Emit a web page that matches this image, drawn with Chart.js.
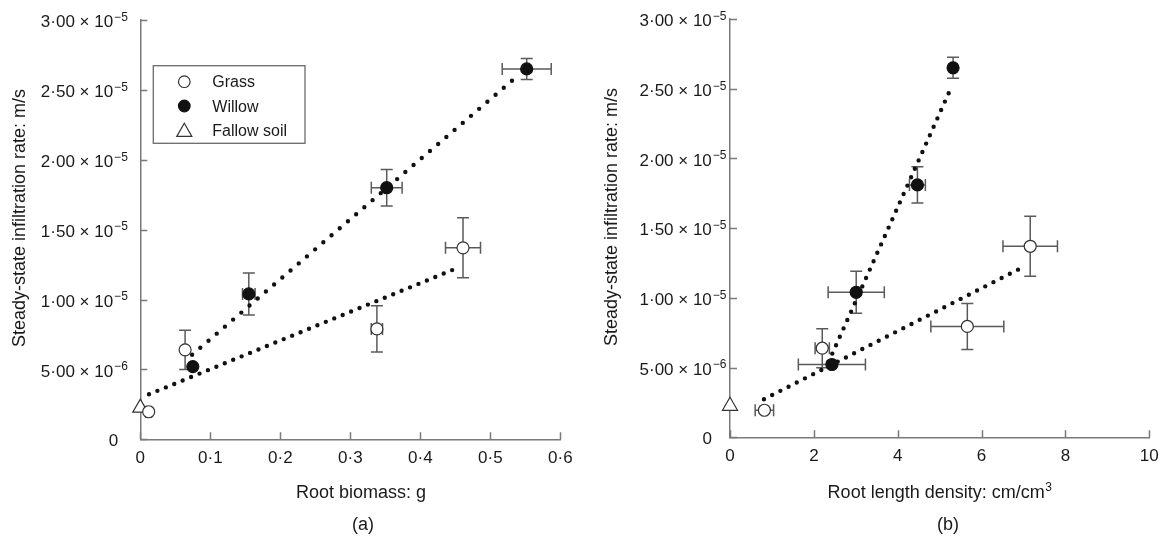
<!DOCTYPE html>
<html>
<head>
<meta charset="utf-8">
<script src="https://cdn.jsdelivr.net/npm/chart.js@4.4.1/dist/chart.umd.min.js"></script>
<style>
  html, body { margin: 0; padding: 0; background: #fff; }
  #wrap { position: relative; width: 1163px; height: 538px; }
  .panel { position: absolute; top: 0; height: 538px; }
  #panelA { left: 0; width: 580px; }
  #panelB { left: 580px; width: 583px; }
</style>
</head>
<body>
<div id="wrap">
  <div class="panel" id="panelA"><canvas id="chartA" width="580" height="538"></canvas></div>
  <div class="panel" id="panelB"><canvas id="chartB" width="583" height="538"></canvas></div>
</div>
<script>
// ---- (a) infiltration vs root biomass (g) ----
const biomassGrassX = [0.012, 0.064, 0.338, 0.461];
const biomassGrassY = [1.97e-6, 6.4e-6, 7.9e-6, 1.37e-5];
const biomassGrassXErr = [0.004, 0.002, 0.008, 0.025];
const biomassGrassYErr = [0, 1.4e-6, 1.65e-6, 2.15e-6];

const biomassWillowX = [0.075, 0.155, 0.352, 0.552];
const biomassWillowY = [5.2e-6, 1.04e-5, 1.80e-5, 2.65e-5];
const biomassWillowXErr = [0, 0.009, 0.022, 0.035];
const biomassWillowYErr = [0, 1.5e-6, 1.3e-6, 0.75e-6];

const biomassWillowFitX = [0.074, 0.539];
const biomassWillowFitY = [6.05e-6, 2.60e-5];
const biomassGrassFitX = [0.0124, 0.453];
const biomassGrassFitY = [3.22e-6, 1.226e-5];

// ---- (b) infiltration vs root length density (cm/cm3) ----
const densityGrassX = [0.82, 2.2, 5.66, 7.16];
const densityGrassY = [1.94e-6, 6.39e-6, 7.95e-6, 1.37e-5];
const densityGrassXErr = [0.22, 0.17, 0.87, 0.65];
const densityGrassYErr = [0, 1.4e-6, 1.65e-6, 2.15e-6];

const densityWillowX = [2.43, 3.01, 4.47, 5.32];
const densityWillowY = [5.22e-6, 1.04e-5, 1.81e-5, 2.65e-5];
const densityWillowXErr = [0.8, 0.67, 0.19, 0.05];
const densityWillowYErr = [0, 1.5e-6, 1.3e-6, 0.75e-6];

const densityWillowFitX = [2.35, 5.27];
const densityWillowFitY = [5.4e-6, 2.505e-5];
const densityGrassFitX = [0.81, 6.97];
const densityGrassFitY = [2.73e-6, 1.218e-5];

// fallow soil has no roots
const fallowX = [0];
const fallowY = [2.25e-6];

const legendLabels = ['Grass', 'Willow', 'Fallow soil'];

const FONT = "'Liberation Sans', Arial, Helvetica, sans-serif";
const AXIS_COLOR = '#7a7a7a';
const ERR_COLOR = '#5a5a5a';
const TEXT_COLOR = '#1a1a1a';
const MARK_DARK = '#111';

function toPoints(xs, ys) {
    return xs.map((x, i) => ({ x: x, y: ys[i] }));
}

function sciParts(v) {
    const parts = v.toExponential(2).split('e');
    return { mant: parts[0].replace('.', '·'), exp: '−' + Math.abs(parseInt(parts[1], 10)) };
}

function drawMarker(ctx, style, x, y) {
    ctx.beginPath();
    if (style === 'triangle') {
        const r = 8.7;
        for (let k = 0; k < 3; k++) {
            const a = k * 2 * Math.PI / 3;
            const px = x + Math.sin(a) * r, py = y - Math.cos(a) * r;
            k === 0 ? ctx.moveTo(px, py) : ctx.lineTo(px, py);
        }
        ctx.closePath();
        ctx.fillStyle = '#fff';
        ctx.strokeStyle = '#333';
    } else {
        ctx.arc(x, y, 5.8, 0, Math.PI * 2);
        ctx.fillStyle = style === 'filled' ? MARK_DARK : '#fff';
        ctx.strokeStyle = style === 'filled' ? MARK_DARK : '#333';
    }
    ctx.lineWidth = 1.2;
    ctx.fill();
    ctx.stroke();
}

// ========== error bars (drawn under the markers) ==========
const errorBars = {
    id: 'errorBars',
    beforeDatasetsDraw(chart) {
        const { ctx, scales: { x, y } } = chart;
        const cap = 6;
        ctx.save();
        ctx.strokeStyle = ERR_COLOR;
        ctx.lineWidth = 1.5;
        chart.data.datasets.forEach(ds => {
            if (!ds.xErr && !ds.yErr) return;
            ds.data.forEach((p, i) => {
                const px = x.getPixelForValue(p.x);
                const py = y.getPixelForValue(p.y);
                const ey = ds.yErr ? ds.yErr[i] : 0;
                const ex = ds.xErr ? ds.xErr[i] : 0;
                ctx.beginPath();
                if (ey > 0) {
                    const top = y.getPixelForValue(p.y + ey);
                    const bot = y.getPixelForValue(p.y - ey);
                    ctx.moveTo(px, top); ctx.lineTo(px, bot);
                    ctx.moveTo(px - cap, top); ctx.lineTo(px + cap, top);
                    ctx.moveTo(px - cap, bot); ctx.lineTo(px + cap, bot);
                }
                if (ex > 0) {
                    const lft = x.getPixelForValue(p.x - ex);
                    const rgt = x.getPixelForValue(p.x + ex);
                    ctx.moveTo(lft, py); ctx.lineTo(rgt, py);
                    ctx.moveTo(lft, py - cap); ctx.lineTo(lft, py + cap);
                    ctx.moveTo(rgt, py - cap); ctx.lineTo(rgt, py + cap);
                }
                ctx.stroke();
            });
        });
        ctx.restore();
    }
};

// ========== inward ticks, scientific labels, titles, legend ==========
const axisDecor = {
    id: 'axisDecor',
    afterDraw(chart, args, opts) {
        const { ctx, chartArea: area, scales: { x, y } } = chart;
        ctx.save();

        ctx.strokeStyle = AXIS_COLOR;
        ctx.lineWidth = 1.5;
        ctx.beginPath();
        y.ticks.forEach(t => {
            const py = Math.round(y.getPixelForValue(t.value)) + 0.5;
            ctx.moveTo(area.left, py); ctx.lineTo(area.left + 7, py);
        });
        x.ticks.forEach(t => {
            const px = Math.round(x.getPixelForValue(t.value)) + 0.5;
            ctx.moveTo(px, area.bottom); ctx.lineTo(px, area.bottom - 7);
        });
        ctx.stroke();

        ctx.fillStyle = TEXT_COLOR;
        ctx.textBaseline = 'alphabetic';

        // y tick labels: m·mm × 10^-n
        y.ticks.forEach(t => {
            const py = y.getPixelForValue(t.value);
            if (Math.abs(t.value) < 1e-12) {
                ctx.font = `17px ${FONT}`;
                ctx.textAlign = 'right';
                ctx.fillText('0', area.left - opts.zeroGap, py + 6.3);
                return;
            }
            const s = sciParts(t.value);
            const main = s.mant + ' × 10';
            ctx.font = `12px ${FONT}`;
            const supW = ctx.measureText(s.exp).width;
            const end = area.left - opts.labelGap;
            ctx.textAlign = 'left';
            ctx.fillText(s.exp, end - supW, py + 0.8);
            ctx.font = `17px ${FONT}`;
            ctx.textAlign = 'right';
            ctx.fillText(main, end - supW - 1, py + 7.3);
        });

        // x tick labels, zero written plain
        ctx.font = `17px ${FONT}`;
        ctx.textAlign = 'center';
        x.ticks.forEach(t => {
            const px = x.getPixelForValue(t.value);
            const txt = t.value === 0 ? '0' : t.value.toFixed(opts.xDecimals).replace('.', '·');
            ctx.fillText(txt, px, area.bottom + 24);
        });

        // x title, with optional superscript
        ctx.font = `18px ${FONT}`;
        const baseW = ctx.measureText(opts.xTitle).width;
        let supW = 0;
        if (opts.xTitleSup) {
            ctx.font = `12px ${FONT}`;
            supW = ctx.measureText(opts.xTitleSup).width;
        }
        const startX = opts.xTitleX - (baseW + supW) / 2;
        ctx.textAlign = 'left';
        ctx.font = `18px ${FONT}`;
        ctx.fillText(opts.xTitle, startX, 498);
        if (opts.xTitleSup) {
            ctx.font = `12px ${FONT}`;
            ctx.fillText(opts.xTitleSup, startX + baseW + 0.5, 491);
        }

        // panel tag
        ctx.font = `18px ${FONT}`;
        ctx.textAlign = 'center';
        ctx.fillText(opts.tag, opts.tagX, 530);

        // y title
        ctx.save();
        ctx.translate(opts.yTitleX, opts.yTitleY);
        ctx.rotate(-Math.PI / 2);
        ctx.textAlign = 'center';
        ctx.fillText('Steady-state infiltration rate: m/s', 0, 0);
        ctx.restore();

        // legend box
        if (opts.legend) {
            const bx = area.left + 13, by = area.top + 45.7, bw = 151.7, bh = 77.6;
            ctx.strokeStyle = '#6a6a6a';
            ctx.lineWidth = 1.3;
            ctx.strokeRect(bx, by, bw, bh);
            const styles = ['open', 'filled', 'triangle'];
            const rows = [16, 40.3, 64.3];
            ctx.font = `16px ${FONT}`;
            ctx.textAlign = 'left';
            legendLabels.forEach((label, i) => {
                drawMarker(ctx, styles[i], bx + 31, by + rows[i] + (styles[i] === 'triangle' ? 2 : 0));
                ctx.fillStyle = TEXT_COLOR;
                ctx.fillText(label, bx + 59, by + rows[i] + 5.7);
            });
        }
        ctx.restore();
    }
};

// dotted regression line between two fitted end points
function fitLine(xs, ys, gap) {
    return {
        data: toPoints(xs, ys),
        showLine: true,
        borderColor: MARK_DARK,
        borderWidth: 4.4,
        borderDash: [0, gap],
        borderCapStyle: 'round',
        pointRadius: 0,
        fill: false,
        order: 2
    };
}

function pointSet(xs, ys, xErr, yErr, filled) {
    return {
        data: toPoints(xs, ys),
        xErr: xErr,
        yErr: yErr,
        pointStyle: 'circle',
        pointRadius: 6,
        pointBackgroundColor: filled ? MARK_DARK : '#fff',
        pointBorderColor: filled ? MARK_DARK : '#333',
        pointBorderWidth: 1.2,
        clip: false,
        order: 1
    };
}

function fallowSet() {
    return {
        data: toPoints(fallowX, fallowY),
        pointStyle: 'triangle',
        pointRadius: 8.7,
        pointBackgroundColor: '#fff',
        pointBorderColor: '#333',
        pointBorderWidth: 1.2,
        clip: false,
        order: 1
    };
}

function axisOpts(max, step, fitSize, isY) {
    return {
        type: 'linear',
        min: 0,
        max: max,
        ticks: { display: false, stepSize: step },
        grid: { display: false },
        border: { display: true, color: AXIS_COLOR, width: 1.5 },
        afterFit: isY ? (s => { s.width = fitSize; }) : (s => { s.height = fitSize; })
    };
}

function makeChart(canvasId, datasets, xMax, xStep, layout, decor) {
    return new Chart(document.getElementById(canvasId), {
        type: 'scatter',
        data: { datasets: datasets },
        options: {
            responsive: false,
            animation: false,
            events: [],
            layout: { padding: { left: 0, top: layout.top, right: layout.right, bottom: 0 } },
            scales: {
                x: axisOpts(xMax, xStep, layout.xHeight, false),
                y: axisOpts(3e-5, 5e-6, layout.yWidth, true)
            },
            plugins: {
                legend: { display: false },
                tooltip: { enabled: false },
                axisDecor: decor
            }
        },
        plugins: [errorBars, axisDecor]
    });
}

makeChart('chartA', [
    pointSet(biomassGrassX, biomassGrassY, biomassGrassXErr, biomassGrassYErr, false),
    pointSet(biomassWillowX, biomassWillowY, biomassWillowXErr, biomassWillowYErr, true),
    fallowSet(),
    fitLine(biomassWillowFitX, biomassWillowFitY, 10.8),
    fitLine(biomassGrassFitX, biomassGrassFitY, 9.1)
], 0.6, 0.1,
{ top: 20, right: 19.7, xHeight: 98.7, yWidth: 140.3 },
{ xDecimals: 1, labelGap: 12.5, zeroGap: 22, xTitle: 'Root biomass: g', xTitleSup: '',
  xTitleX: 361, tag: '(a)', tagX: 363, yTitleX: 24.5, yTitleY: 218, legend: true });

makeChart('chartB', [
    pointSet(densityGrassX, densityGrassY, densityGrassXErr, densityGrassYErr, false),
    pointSet(densityWillowX, densityWillowY, densityWillowXErr, densityWillowYErr, true),
    fallowSet(),
    fitLine(densityWillowFitX, densityWillowFitY, 9.2),
    fitLine(densityGrassFitX, densityGrassFitY, 9.2)
], 10, 2,
{ top: 19, right: 13.7, xHeight: 100.7, yWidth: 150 },
{ xDecimals: 0, labelGap: 3.5, zeroGap: 18, xTitle: 'Root length density: cm/cm', xTitleSup: '3',
  xTitleX: 359.5, tag: '(b)', tagX: 368, yTitleX: 37, yTitleY: 217, legend: false });
</script>
</body>
</html>
